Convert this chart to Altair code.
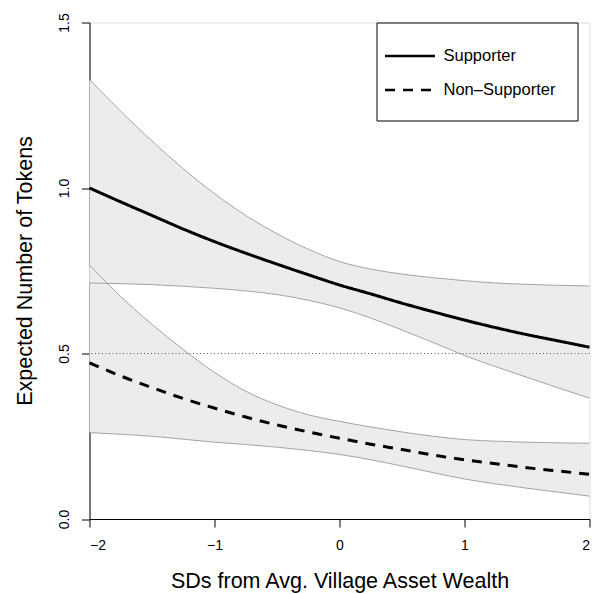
import altair as alt
import pandas as pd

# ---- data ----
xs = [-2.0, -1.75, -1.5, -1.25, -1.0, -0.75, -0.5, -0.25, 0.0,
      0.25, 0.5, 0.75, 1.0, 1.25, 1.5, 1.75, 2.0]

sup_mean = [1.000, 0.958, 0.917, 0.876, 0.838, 0.803, 0.770, 0.738, 0.707,
            0.680, 0.652, 0.626, 0.601, 0.578, 0.557, 0.538, 0.519]
sup_upper = [1.328, 1.232, 1.142, 1.058, 0.983, 0.917, 0.862, 0.815, 0.778,
             0.755, 0.740, 0.729, 0.720, 0.713, 0.709, 0.706, 0.704]
sup_lower = [0.713, 0.711, 0.708, 0.703, 0.697, 0.689, 0.678, 0.661, 0.638,
             0.607, 0.571, 0.533, 0.494, 0.460, 0.428, 0.396, 0.365]

non_mean = [0.472, 0.432, 0.397, 0.364, 0.335, 0.308, 0.284, 0.263, 0.244,
            0.226, 0.210, 0.193, 0.179, 0.167, 0.155, 0.145, 0.135]
non_upper = [0.767, 0.672, 0.588, 0.512, 0.443, 0.386, 0.345, 0.315, 0.295,
             0.278, 0.263, 0.250, 0.240, 0.235, 0.232, 0.230, 0.229]
non_lower = [0.261, 0.256, 0.250, 0.241, 0.232, 0.225, 0.217, 0.207, 0.195,
             0.179, 0.160, 0.140, 0.121, 0.106, 0.093, 0.081, 0.069]

groups = ["Supporter", "Non\u2013Supporter"]
ref_level = [0.5]
x_ticks = [-2, -1, 0, 1, 2]
y_ticks = [0.0, 0.5, 1.0, 1.5]

# ---- build table ----
rows = []
for g, m, lo, up in [(groups[0], sup_mean, sup_lower, sup_upper),
                     (groups[1], non_mean, non_lower, non_upper)]:
    for i, x in enumerate(xs):
        rows.append({"x": x, "group": g, "mean": m[i], "lower": lo[i], "upper": up[i],
                     "order": groups.index(g)})
df = pd.DataFrame(rows)

FONT = "Liberation Sans"

x_enc = alt.X(
    "x:Q",
    scale=alt.Scale(domain=[-2, 2], nice=False, zero=False),
    axis=alt.Axis(
        values=x_ticks, format="d", grid=False,
        title="SDs from Avg. Village Asset Wealth",
        labelFontSize=14, labelPadding=11, labelColor="black",
        tickSize=8, tickColor="black", domainColor="black",
        titleFontSize=21.5, titleFontWeight="normal", titleColor="black",
        titleY=68, titleBaseline="alphabetic",
    ),
)
y_scale = alt.Scale(domain=[0, 1.5], nice=False, zero=False)
y_axis = alt.Axis(
    values=y_ticks, format=".1f", grid=False,
    title="Expected Number of Tokens",
    labelFontSize=14, labelAngle=270, labelAlign="center",
    labelBaseline="alphabetic", labelPadding=13, labelColor="black",
    tickSize=8, tickColor="black", domainColor="black",
    titleFontSize=21.5, titleFontWeight="normal", titleColor="black",
    titleAngle=270, titleAlign="center", titleBaseline="alphabetic",
    titleX=-58.5, titleY=248,
)

base = alt.Chart(df)

band = base.mark_area(color="#ECECEC", opacity=1, interpolate="monotone").encode(
    x=x_enc,
    y=alt.Y("lower:Q", scale=y_scale, axis=y_axis),
    y2="upper:Q",
    detail="group:N",
    order="order:Q",
)

upper_line = base.mark_line(color="#9A9A9A", strokeWidth=0.9, interpolate="monotone").encode(
    x="x:Q", y="upper:Q", detail="group:N"
)
lower_line = base.mark_line(color="#9A9A9A", strokeWidth=0.9, interpolate="monotone").encode(
    x="x:Q", y="lower:Q", detail="group:N"
)

ref = alt.Chart(pd.DataFrame({"y": ref_level})).mark_rule(
    color="#555555", strokeWidth=1, strokeDash=[1, 2.5]
).encode(y="y:Q")

means = base.mark_line(color="black", strokeWidth=3, interpolate="monotone").encode(
    x="x:Q",
    y="mean:Q",
    strokeDash=alt.StrokeDash(
        "group:N",
        scale=alt.Scale(domain=groups, range=[[1, 0], [10, 8]]),
        legend=alt.Legend(
            title=None, orient="none", legendX=287, legendY=0,
            strokeColor="black", fillColor="white", padding=22,
            symbolType="M-2.5,0H2.5", symbolSize=400,
            symbolStrokeWidth=2.5, symbolStrokeColor="black",
            labelFontSize=16.5, labelOffset=22, labelColor="black",
            rowPadding=14, labelLimit=300,
        ),
    ),
    detail="group:N",
)

chart = alt.layer(band, upper_line, lower_line, ref, means).properties(
    width=500, height=496.5,
    autosize=alt.AutoSizeParams(type="none"),
    padding={"left": 81.5, "top": 14.5, "right": 2, "bottom": 75},
).configure_view(strokeWidth=0).configure(font=FONT)

chart.save("out.html", embed_options={"renderer": "svg", "actions": False})
